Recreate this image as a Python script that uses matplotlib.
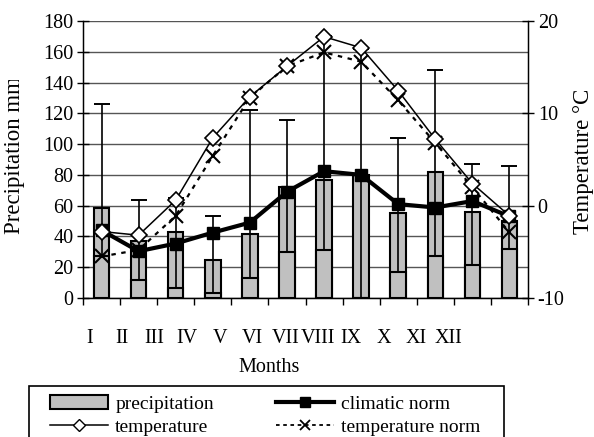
import matplotlib
matplotlib.use("Agg")
import matplotlib.pyplot as plt
import numpy as np
from matplotlib.patches import Patch, Rectangle
from matplotlib.lines import Line2D

plt.rcParams['font.family'] = ['Liberation Serif', 'DejaVu Serif']
plt.rcParams['axes.unicode_minus'] = False

months = ["I", "II", "III", "IV", "V", "VI", "VII", "VIII", "IX", "X", "XI", "XII"]
precipitation = [58.5, 37, 43, 25, 41.5, 72, 77, 80, 55.5, 81.8, 55.8, 50]
precip_min = [27, 12, 6.5, 3, 13, 30, 31, 0, 16.7, 27.6, 21.7, 32]
precip_max = [126, 64, 65, 53, 122, 115.6, 170, 162, 103.7, 148, 87.4, 86]
climatic_norm = [44, 30.4, 35.4, 42.5, 49, 69, 82.4, 80, 61, 58.8, 63, 53]
temperature = [-2.8, -3.2, 0.6, 7.35, 11.8, 15.1, 18.3, 17.1, 12.45, 7.2, 2.4, -1.1]
temperature_norm = [-5.5, -4.8, -1.1, 5.4, 11.7, 15.1, 16.6, 15.6, 11.4, 6.8, 2.0, -2.9]

W, H = 594, 437
fig = plt.figure(figsize=(W / 100, H / 100), dpi=100)

def fx(px):
    return px / W

def fy(py):
    return 1 - py / H

ax_l, ax_r, ax_t, ax_b = 83, 528, 21, 298
ax = fig.add_axes([fx(ax_l), fy(ax_b), fx(ax_r - ax_l), fy(ax_t) - fy(ax_b)])
ax2 = ax.twinx()

x = np.arange(len(months))
bw = 0.42
ax.set_axisbelow(True)
ax.bar(x, precipitation, width=bw, color='#c0c0c0', edgecolor='black', linewidth=1.5, zorder=2)
ax.bar(x, precip_min, width=bw, color='#c0c0c0', edgecolor='black', linewidth=1.5, zorder=2)
ax.errorbar(x, precip_max, yerr=[np.array(precip_max) - np.array(precip_min), np.zeros(12)],
            fmt='none', ecolor='black', elinewidth=1.2, capsize=0, zorder=3)
ax.errorbar(x, precip_max, yerr=0, fmt='none', ecolor='black', elinewidth=1.2,
            capsize=6, capthick=1.2, zorder=3)
ax.plot(x, climatic_norm, color='black', lw=3, marker='s', ms=8, mfc='black', mec='black', zorder=4)

ax.set_xlim(-0.5, 11.5)
ax.set_ylim(0, 180)
ax.set_yticks(np.arange(0, 181, 20))
ax.yaxis.grid(True, color='#555555', lw=1)
ax.set_xticks(np.arange(-0.5, 12, 1))
ax.set_xticklabels([])
ax.tick_params(axis='x', direction='out', length=5, width=1)
ax.tick_params(axis='y', direction='inout', length=8, width=1, labelsize=14.5, pad=3)
ax.spines['top'].set_visible(False)
ax2.spines['top'].set_visible(False)
ax.spines['left'].set_linewidth(1)
ax.spines['bottom'].set_linewidth(1)

ax2.plot(x, temperature_norm, color='black', lw=1.6, ls=(0, (2, 2.5)), marker='x', ms=10, mew=1.5, zorder=5)
ax2.plot(x, temperature, color='black', lw=1.1, marker='D', ms=8, mfc='white', mec='black', mew=1.2, zorder=6)
ax2.set_ylim(-10, 20)
ax2.set_yticks([-10, 0, 10, 20])
ax2.tick_params(axis='y', direction='inout', length=8, width=1, labelsize=14.5, pad=3)
ax2.spines['right'].set_linewidth(1)

# Axis titles
t = fig.text(fx(15), fy(234), "Precipitation mm", rotation=90, ha='center', va='bottom', fontsize=16.5)
clip = Rectangle((0, 0), 1, fy(80), transform=fig.transFigure)
t.set_clip_path(clip)
fig.text(fx(584), fy(234), "Temperature °C", rotation=90, ha='center', va='bottom', fontsize=16.5)

# Category labels (rendered on a helper axis as in the reference)
lab_l, lab_r = 73, 465
axl = fig.add_axes([fx(lab_l), fy(ax_b), fx(lab_r - lab_l), 0.001])
axl.set_xlim(-0.5, 11.5)
axl.set_xticks(x)
axl.set_xticklabels(months, fontsize=14.5)
axl.tick_params(axis='x', length=0, pad=22)
axl.set_yticks([])
for s in axl.spines.values():
    s.set_visible(False)
axl.patch.set_visible(False)
fig.text(fx(269), fy(367), "Months", ha='center', va='center', fontsize=14.5)

# Legend
fig.patches.append(Rectangle((fx(29), fy(445)), fx(504 - 29), fy(386) - fy(445),
                             transform=fig.transFigure, fill=False, edgecolor='black',
                             linewidth=1.2))
handles = [
    Patch(facecolor='#c0c0c0', edgecolor='black', linewidth=1.5),
    Line2D([], [], color='black', lw=1.1, marker='D', ms=6, mfc='white', mec='black'),
    Line2D([], [], color='black', lw=3, marker='s', ms=7, mfc='black'),
    Line2D([], [], color='black', lw=1.3, ls=(0, (2, 2)), marker='x', ms=7, mew=1.3),
]
labels = ["precipitation", "temperature", "climatic norm", "temperature norm"]
leg = fig.legend(handles, labels, ncol=2, loc='upper left',
                 bbox_to_anchor=(fx(50), fy(395)),
                 fontsize=14, frameon=False,
                 handlelength=3.0, handletextpad=0.35, labelspacing=0.3,
                 borderpad=0, columnspacing=3.2, borderaxespad=0)

fig.savefig("out.png", dpi=100)
